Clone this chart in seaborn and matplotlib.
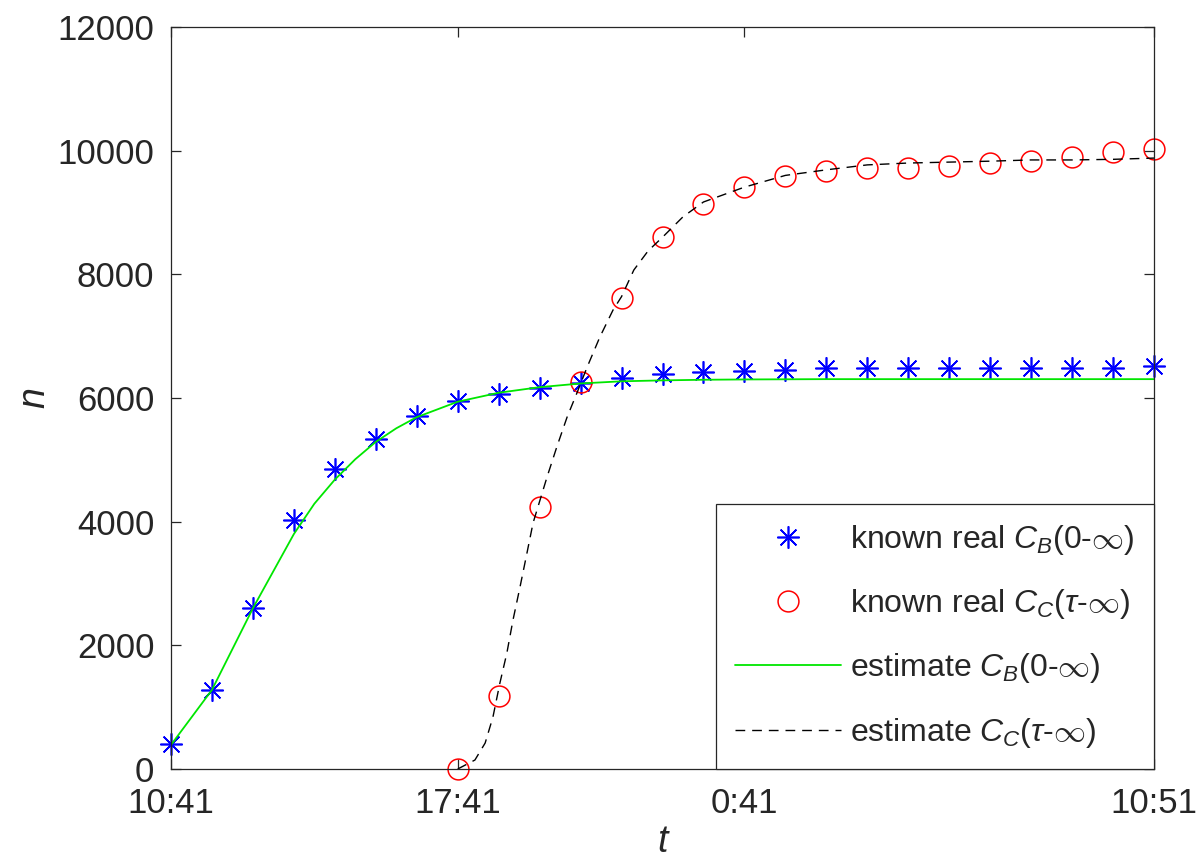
import numpy as np
import pandas as pd
import matplotlib
matplotlib.use("Agg")
import matplotlib.pyplot as plt
import seaborn as sns

# ---- data ----
hours = list(range(25))
real_B = [400, 1280, 2600, 4020, 4850, 5340, 5710, 5950, 6065, 6160, 6250, 6320, 6390,
          6420, 6435, 6450, 6480, 6480, 6480, 6480, 6480, 6480, 6480, 6480, 6510]
hours_C = list(range(7, 25))
real_C = [0, 1180, 4240, 6260, 7616, 8600, 9136, 9411, 9590, 9670, 9718, 9718, 9750,
          9799, 9831, 9896, 9977, 10025]

est_B_t = [0, 1, 2, 3, 3.5, 4, 4.5, 5, 5.5, 6, 7, 8, 9, 10, 11, 12, 13, 14, 16, 18, 20, 22, 24]
est_B = [390, 1280, 2600, 3800, 4290, 4680, 5010, 5290, 5510, 5690, 5940, 6085, 6175, 6235,
         6270, 6285, 6295, 6300, 6305, 6305, 6305, 6305, 6305]

est_C_t = [7, 7.42, 7.67, 7.86, 8.03, 8.2, 8.35, 8.52, 8.69, 8.84, 9.01, 9.18, 9.42, 9.67,
           9.91, 10.16, 10.47, 10.79, 11.0, 11.3, 11.65, 12.0, 12.5, 13.0, 14.0, 15.0, 16.0,
           17.0, 18.0, 19.0, 20.0, 21.0, 22.0, 23.0, 24.0]
est_C = [0, 145, 420, 840, 1390, 1875, 2410, 2940, 3490, 3980, 4350, 4720, 5210, 5690,
         6080, 6500, 6985, 7420, 7640, 8070, 8380, 8600, 8930, 9170, 9410, 9600, 9690,
         9770, 9800, 9815, 9830, 9850, 9850, 9860, 9880]

xtick_pos = [0, 7, 14, 24]
xtick_labels = ["10:41", "17:41", "0:41", "10:51"]
ytick_vals = list(range(0, 12001, 2000))

labels = [r"known real $C_B$(0-$\mathsf{\infty}$)",
          r"known real $C_C$($\tau$-$\mathsf{\infty}$)",
          r"estimate $C_B$(0-$\mathsf{\infty}$)",
          r"estimate $C_C$($\tau$-$\mathsf{\infty}$)"]

# ---- style ----
sns.set_theme(style="white")
plt.rcParams["font.family"] = ["Liberation Sans", "DejaVu Sans"]
plt.rcParams["mathtext.fontset"] = "custom"
plt.rcParams["mathtext.rm"] = "Liberation Sans"
plt.rcParams["mathtext.it"] = "Liberation Sans:italic"
plt.rcParams["mathtext.bf"] = "Liberation Sans:bold"
plt.rcParams["mathtext.sf"] = "DejaVu Sans:light"

fig = plt.figure(figsize=(12.01, 8.61), dpi=100)
ax = fig.add_axes([171 / 1201, 1 - 769 / 861, (1154 - 171) / 1201, (769 - 27) / 861])

dfB = pd.DataFrame({"t": hours, "n": real_B})
dfC = pd.DataFrame({"t": hours_C, "n": real_C})
dfeB = pd.DataFrame({"t": est_B_t, "n": est_B})
dfeC = pd.DataFrame({"t": est_C_t, "n": est_C})

sns.lineplot(data=dfB, x="t", y="n", ax=ax, linestyle="none", marker=(8, 2, 0),
             markersize=16, markeredgecolor="#0000ff", markeredgewidth=1.2, color="#0000ff",
             label=labels[0], clip_on=False, sort=False)
sns.lineplot(data=dfC, x="t", y="n", ax=ax, linestyle="none", marker="o",
             markersize=15, markerfacecolor="none", markeredgecolor="#ff0000",
             markeredgewidth=1.1, color="#ff0000", label=labels[1], clip_on=False, sort=False)
sns.lineplot(data=dfeB, x="t", y="n", ax=ax, color="#00e600", linewidth=1.3,
             label=labels[2], sort=False)
sns.lineplot(data=dfeC, x="t", y="n", ax=ax, color="black", linewidth=1.0,
             linestyle=(0, (7, 5)), label=labels[3], sort=False)

ax.set_xlim(0, 24)
ax.set_ylim(0, 12000)
ax.set_xticks(xtick_pos)
ax.set_xticklabels(xtick_labels)
ax.set_yticks(ytick_vals)
ax.set_yticklabels([str(v) for v in ytick_vals])

tc = "#262626"
for s in ax.spines.values():
    s.set_visible(True)
    s.set_color(tc)
    s.set_linewidth(0.9)
ax.tick_params(axis="both", direction="in", length=7, width=0.9, colors=tc,
               labelsize=25, top=True, right=True, bottom=True, left=True)
ax.tick_params(axis="y", pad=12)
ax.tick_params(axis="x", pad=13)

ax.set_xlabel("t", fontsize=27, fontstyle="italic", color=tc, labelpad=3)
ax.set_ylabel("n", fontsize=27, fontstyle="italic", color=tc, labelpad=4)

leg = ax.legend(loc="lower right", borderaxespad=0, fontsize=23, frameon=True,
                fancybox=False, edgecolor=tc, framealpha=1, handlelength=3.3,
                handletextpad=0.3, labelspacing=0.95, borderpad=0.6)
leg.get_frame().set_linewidth(0.9)
for t in leg.get_texts():
    t.set_color(tc)

fig.savefig("out.png", dpi=100)
